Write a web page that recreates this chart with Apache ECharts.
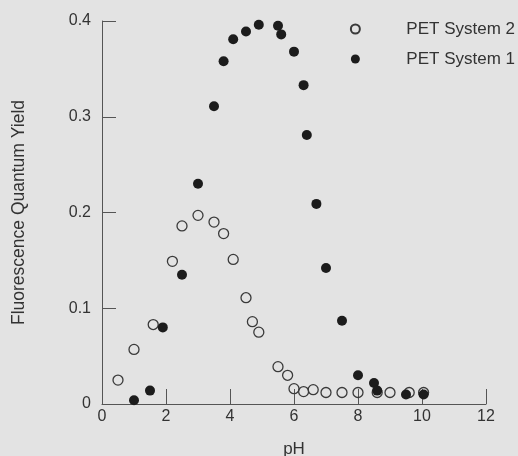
<!DOCTYPE html>
<html>
<head>
<meta charset="utf-8">
<script src="https://cdn.jsdelivr.net/npm/echarts@6/dist/echarts.min.js"></script>
<style>
  html, body { margin: 0; padding: 0; background: #e3e3e3; }
  #chart { width: 518px; height: 456px; }
</style>
</head>
<body>
<div id="chart"></div>
<script>
// PET System 1 (filled circles)
const sys1Ph = [1.0, 1.5, 1.9, 2.5, 3.0, 3.5, 3.8, 4.1, 4.5, 4.9, 5.5, 5.6, 6.0, 6.3, 6.4, 6.7, 7.0, 7.5, 8.0, 8.5, 8.6, 9.5, 10.05]
const sys1Yield = [0.004, 0.014, 0.080, 0.135, 0.230, 0.311, 0.358, 0.381, 0.389, 0.396, 0.395, 0.386, 0.368, 0.333, 0.281, 0.209, 0.142, 0.087, 0.030, 0.022, 0.014, 0.010, 0.010]

// PET System 2 (open circles)
const sys2Ph = [0.5, 1.0, 1.6, 2.2, 2.5, 3.0, 3.5, 3.8, 4.1, 4.5, 4.7, 4.9, 5.5, 5.8, 6.0, 6.3, 6.6, 7.0, 7.5, 8.0, 8.6, 9.0, 9.6, 10.05]
const sys2Yield = [0.025, 0.057, 0.083, 0.149, 0.186, 0.197, 0.190, 0.178, 0.151, 0.111, 0.086, 0.075, 0.039, 0.030, 0.016, 0.013, 0.015, 0.012, 0.012, 0.012, 0.012, 0.012, 0.012, 0.012]

const seriesNames = ['PET System 2', 'PET System 1']
const xTicks = { min: 0, max: 12, interval: 2 }
const yTicks = { min: 0, max: 0.4, interval: 0.1 }

const zip = (xs, ys) => xs.map((x, i) => [x, ys[i]])

const textColor = '#333'
const axisColor = '#555'
const font = 'Liberation Sans, Arial, sans-serif'

let chart = echarts.init(document.getElementById('chart'))

chart.setOption({
  backgroundColor: '#e3e3e3',
  animation: false,
  // keep the plot box where the original has it, labels may go near the edge
  grid: { left: 102, right: 32, top: 21, bottom: 52, outerBoundsMode: 'none', containLabel: false },
  legend: {
    data: seriesNames,
    orient: 'vertical',
    right: 3,
    top: 19,
    align: 'left',
    padding: 0,
    itemWidth: 20,
    itemHeight: 9,
    itemGap: 10,
    textStyle: { color: textColor, fontSize: 17, fontFamily: font, lineHeight: 20, padding: [0, 0, 0, 36] }
  },
  xAxis: {
    type: 'value',
    min: xTicks.min,
    max: xTicks.max,
    interval: xTicks.interval,
    name: 'pH',
    nameLocation: 'middle',
    nameGap: 37,
    nameTextStyle: { color: textColor, fontSize: 17, fontFamily: font },
    axisLine: { lineStyle: { color: axisColor, width: 1 } },
    axisTick: { inside: true, length: 15, lineStyle: { color: axisColor } },
    axisLabel: { margin: 5, color: textColor, fontSize: 16, fontFamily: font },
    splitLine: { show: false }
  },
  yAxis: {
    type: 'value',
    min: yTicks.min,
    max: yTicks.max,
    interval: yTicks.interval,
    name: 'Fluorescence Quantum Yield',
    nameLocation: 'middle',
    nameRotate: 90,
    nameGap: 74,
    nameTextStyle: { color: textColor, fontSize: 17.5, fontFamily: font },
    axisLine: { show: true, lineStyle: { color: axisColor, width: 1 } },
    axisTick: { show: true, inside: true, length: 14, lineStyle: { color: axisColor } },
    axisLabel: {
      margin: 11,
      color: textColor,
      fontSize: 16,
      fontFamily: font,
      formatter: v => (v === 0 ? '0' : v.toFixed(1))
    },
    splitLine: { show: false }
  },
  series: [
    {
      name: seriesNames[0],
      type: 'scatter',
      symbol: 'circle',
      symbolSize: 10,
      itemStyle: { color: 'rgba(0,0,0,0)', borderColor: '#3a3a3a', borderWidth: 1.3, opacity: 1 },
      data: zip(sys2Ph, sys2Yield)
    },
    {
      name: seriesNames[1],
      type: 'scatter',
      symbol: 'circle',
      symbolSize: 10,
      itemStyle: { color: '#1c1c1c', opacity: 1 },
      data: zip(sys1Ph, sys1Yield)
    }
  ]
})
</script>
</body>
</html>
